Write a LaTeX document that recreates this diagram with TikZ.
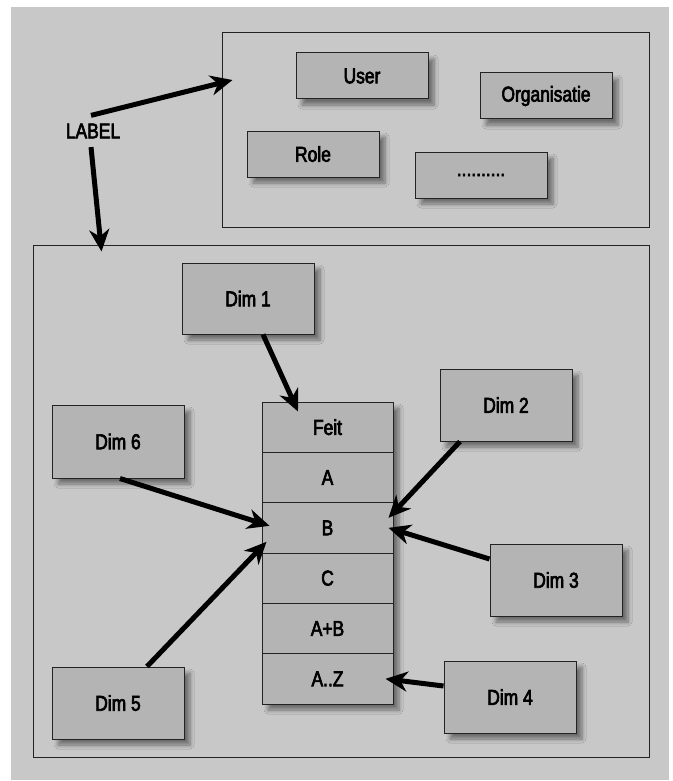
\documentclass[tikz,border=0pt]{standalone}
\usepackage{fontspec}
\setmainfont{Liberation Sans}[FakeStretch=0.81,FakeBold=3]
\usetikzlibrary{arrows.meta,shadows.blur}
\definecolor{bg}{RGB}{200,200,200}
\definecolor{boxfill}{RGB}{180,180,180}
\definecolor{edge}{RGB}{35,35,35}
\begin{document}
\begin{tikzpicture}[x=1pt,y=-1pt,
  lbl/.style={font=\fontsize{21.5}{25}\selectfont, inner sep=0pt},
  shad/.style={blur shadow={shadow xshift=6pt, shadow yshift=-6pt, shadow blur radius=4pt, shadow blur steps=6, shadow opacity=45}},
  box/.style={lbl, draw=edge, line width=1pt, fill=boxfill, minimum width=132pt, shad},
  small/.style={box, minimum height=46pt},
  dimbox/.style={box, minimum height=72pt},
  tablebox/.style={draw=edge, line width=1pt, fill=boxfill, minimum width=131pt, minimum height=302pt, inner sep=0pt, shad},
  rowbox/.style={lbl, draw=edge, line width=1pt, fill=boxfill, minimum width=131pt, minimum height=50.33pt},
  framebox/.style={draw=edge, line width=1pt, inner sep=0pt},
  arr/.style={line width=5pt, -{Stealth[length=22pt,width=20pt,inset=7pt]}}
]
\useasboundingbox (0,0) rectangle (672,781);
\fill[bg] (11,7) rectangle (669,780);

% frames
\node[framebox, minimum width=427pt, minimum height=194pt] (top) at (435.5,130) {};
\node[framebox, minimum width=616pt, minimum height=512pt] (bot) at (341,501) {};

% top boxes
\node[small] (user) at (362,76) {User};
\node[small] (org) at (546,96) {Organisatie};
\node[small] (role) at (313,154) {Role};
\node[small] (more) at (481,175) {..........};

% label
\node[lbl] (label) at (93,131) {LABEL};

% dims
\node[dimbox, minimum height=71pt] (d1) at (248,298.5) {Dim 1};
\node[dimbox] (d2) at (506,405) {Dim 2};
\node[dimbox, minimum height=73pt] (d6) at (118,441.5) {Dim 6};
\node[dimbox] (d3) at (556,580) {Dim 3};
\node[dimbox] (d5) at (118,703) {Dim 5};
\node[dimbox] (d4) at (510,697) {Dim 4};

% fact table
\node[tablebox] (tbl) at (327.5,553) {};
\node[rowbox] (r1) at (327.5,427.17) {Feit};
\node[rowbox] (r2) at (327.5,477.5) {A};
\node[rowbox] (r3) at (327.5,527.83) {B};
\node[rowbox] (r4) at (327.5,578.17) {C};
\node[rowbox] (r5) at (327.5,628.5) {A+B};
\node[rowbox] (r6) at (327.5,678.83) {A..Z};

% arrows
\draw[arr] ([xshift=-2pt,yshift=8pt]label.north) -- ([xshift=11pt,yshift=50pt]top.west);
\draw[arr] ([xshift=-2pt,yshift=-8.5pt]label.south) -- ([xshift=69pt,yshift=-7pt]bot.north west);
\draw[arr] ([xshift=15pt]d1.south) -- ([xshift=-29.5pt,yshift=-10pt]r1.north);
\draw[arr] ([xshift=-46pt]d2.south) -- ([xshift=-5pt,yshift=10pt]r3.east);
\draw[arr] ([xshift=2pt]d6.south) -- ([xshift=8pt,yshift=2pt]r3.west);
\draw[arr] ([yshift=21pt]d3.west) -- ([xshift=-5pt]r3.east);
\draw[arr] ([xshift=29pt]d5.north) -- ([xshift=5pt,yshift=-14pt]r3.west);
\draw[arr] ([yshift=11pt]d4.west) -- ([xshift=-8pt]r6.east);
\end{tikzpicture}
\end{document}
